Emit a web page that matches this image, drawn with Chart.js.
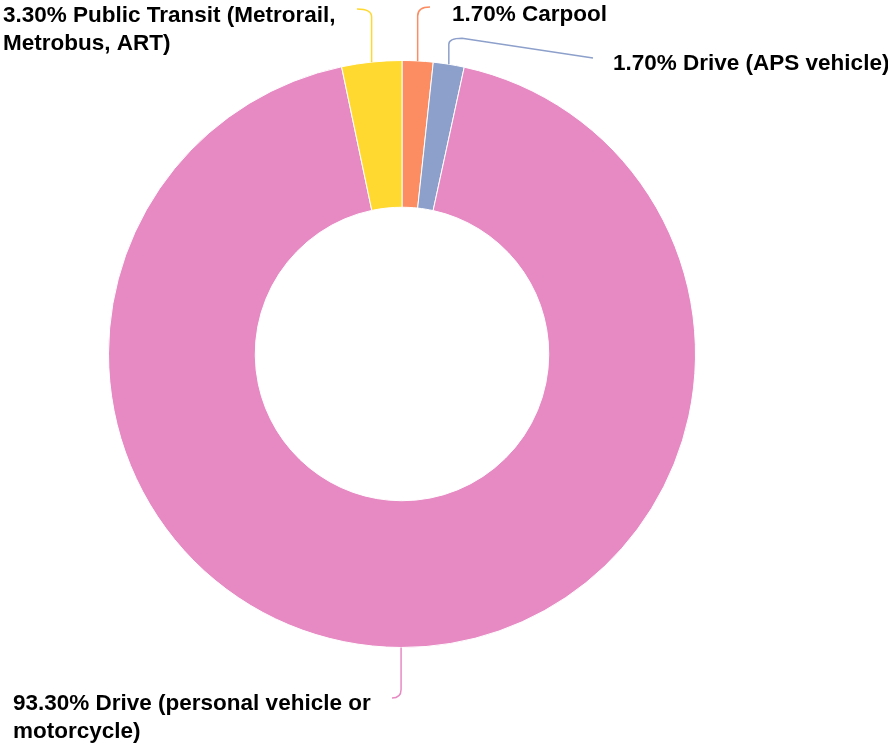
<!DOCTYPE html>
<html>
<head>
<meta charset="utf-8">
<script src="https://cdn.jsdelivr.net/npm/chart.js@4.4.0/dist/chart.umd.min.js"></script>
<style>
  html, body { margin: 0; padding: 0; background: #fff; }
  #wrap { width: 888px; height: 744px; position: relative; }
</style>
</head>
<body>
<div id="wrap"><canvas id="modeChart"></canvas></div>
<script>
// commute mode shares, clockwise from 12 o'clock
const categories = ['Carpool', 'Drive (APS vehicle)', 'Drive (personal vehicle or motorcycle)', 'Public Transit (Metrorail, Metrobus, ART)'];
const shares = [1.7, 1.7, 93.3, 3.3];
const colors = ['#fc8d62', '#8da0cb', '#e78ac3', '#ffd92f'];
// label text broken into lines the way the reference wraps it
const labelLines = [
    ['1.70% Carpool'],
    ['1.70% Drive (APS vehicle)'],
    ['93.30% Drive (personal vehicle or', 'motorcycle)'],
    ['3.30% Public Transit (Metrorail,', 'Metrobus, ART)']
];

// where each callout text sits and how its leader line bends
const callouts = [
    {tx: 452, ty: 15, rise: 45, side: 1, endX: 430, endY: 7},
    {tx: 613, ty: 64, rise: 20, side: 1, endX: 593, endY: 58, knee: 462},
    {tx: 13, ty: 704, rise: 42, side: -1, endX: 392, endY: 698},
    {tx: 3, ty: 16, rise: 45, side: -1, endX: 357, endY: 9}
];

const calloutPlugin = {
    id: 'callouts',
    afterDatasetsDraw(chart) {
        const ctx = chart.ctx;
        const meta = chart.getDatasetMeta(0);
        ctx.save();
        meta.data.forEach((arc, i) => {
            const c = callouts[i];
            const mid = (arc.startAngle + arc.endAngle) / 2;
            const sx = arc.x + Math.cos(mid) * arc.outerRadius;
            const sy = arc.y + Math.sin(mid) * arc.outerRadius;
            const dirY = Math.sin(mid) < 0 ? -1 : 1;
            const turnY = sy + dirY * c.rise;
            ctx.strokeStyle = colors[i];
            ctx.lineWidth = 1.5;
            ctx.beginPath();
            ctx.moveTo(sx, sy);
            ctx.lineTo(sx, turnY);
            if (c.knee) {
                const ky = turnY + dirY * 6;
                ctx.quadraticCurveTo(sx, ky, c.knee, ky);
                ctx.lineTo(c.endX, c.endY);
            } else {
                ctx.quadraticCurveTo(sx, c.endY, c.endX, c.endY);
            }
            ctx.stroke();

            ctx.fillStyle = '#000';
            ctx.font = 'bold 22.5px "Liberation Sans", Arial, sans-serif';
            ctx.textAlign = 'left';
            ctx.textBaseline = 'middle';
            labelLines[i].forEach((line, j) => {
                ctx.fillText(line, c.tx, c.ty + j * 28);
            });
        });
        ctx.restore();
    }
};

new Chart(document.getElementById('modeChart'), {
    type: 'doughnut',
    data: {
        labels: categories,
        datasets: [{
            data: shares,
            backgroundColor: colors,
            borderColor: '#ffffff',
            borderWidth: 1,
            hoverOffset: 0
        }]
    },
    options: {
        responsive: true,
        maintainAspectRatio: false,
        animation: false,
        cutout: '50%',
        layout: {
            padding: {left: 108, right: 192, top: 59, bottom: 95}
        },
        plugins: {
            legend: {display: false},
            tooltip: {enabled: false}
        }
    },
    plugins: [calloutPlugin]
});
</script>
</body>
</html>
